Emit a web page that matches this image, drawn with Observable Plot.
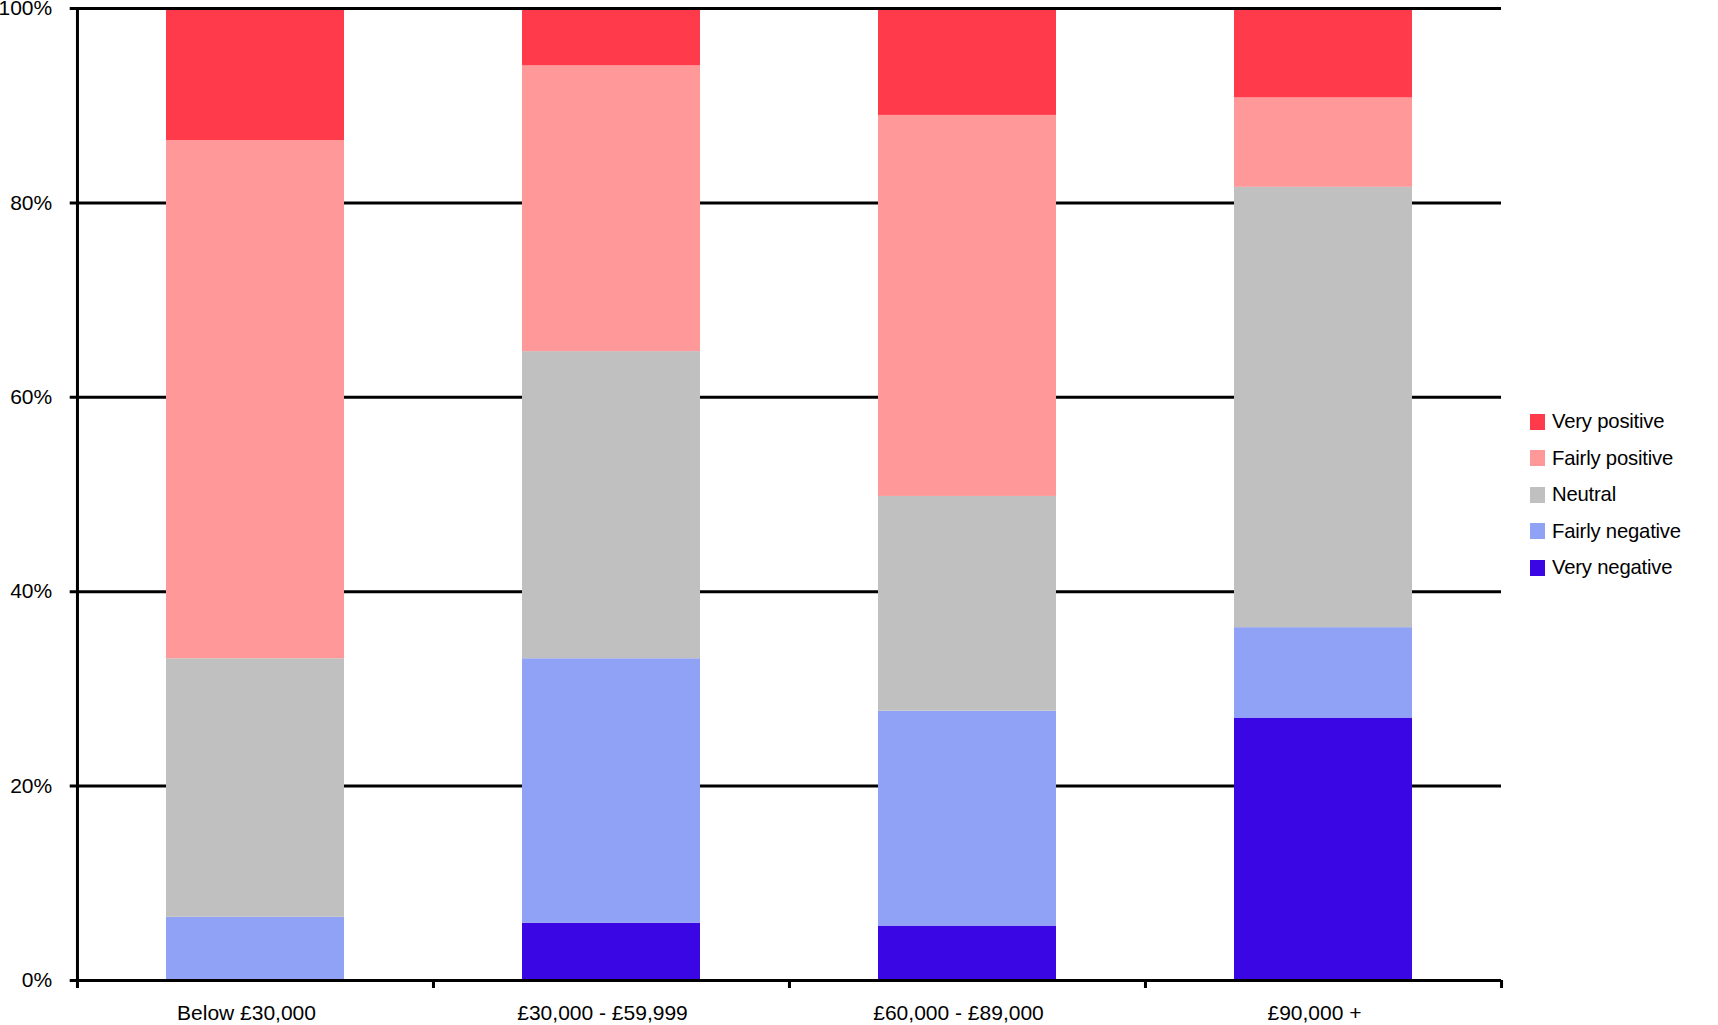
<!DOCTYPE html>
<html><head><meta charset="utf-8">
<script src="https://cdn.jsdelivr.net/npm/d3@7"></script>
<script src="https://cdn.jsdelivr.net/npm/@observablehq/plot@0.6"></script>
<style>
html,body{margin:0;padding:0;background:#fff;}
#chart{position:relative;width:1718px;height:1025px;font-family:"Liberation Sans",Arial,sans-serif;overflow:hidden;}
#chart svg{position:absolute;left:0;top:0;overflow:visible;}
#legend{position:absolute;left:1530px;top:403.5px;}
.row{display:flex;align-items:center;height:36.5px;font-size:20.3px;color:#000;white-space:nowrap;letter-spacing:-0.2px;}
.sw{width:15px;height:16px;margin-right:7px;flex:none;}
</style></head><body><div id="chart"></div>
<script>
const categories = ["Below £30,000", "£30,000 - £59,999", "£60,000 - £89,000", "£90,000 +"];
const responses = ["Very negative", "Fairly negative", "Neutral", "Fairly positive", "Very positive"];
const veryNegative   = [0.0,  5.9,  5.6, 27.0];
const fairlyNegative = [6.5, 27.2, 22.1,  9.3];
const neutral        = [26.6, 31.6, 22.1, 45.3];
const fairlyPositive = [53.3, 29.4, 39.2,  9.2];
const veryPositive   = [13.6,  5.9, 11.0,  9.2];
const colors = ["#3a06e4", "#8fa2f5", "#c0c0c0", "#ff9999", "#ff3a4b"];
const yTicks = [0, 20, 40, 60, 80, 100];

const series = [veryNegative, fairlyNegative, neutral, fairlyPositive, veryPositive];
const table = [];
categories.forEach((c, i) => {
  responses.forEach((r, j) => table.push({category: c, response: r, value: series[j][i]}));
});

const W = 1718, H = 1025, mL = 76.7, mR = 217, mT = 8, mB = 45;
const step = (W - mL - mR) / categories.length;
const lineStyle = {stroke: "#000", strokeWidth: 3};

const chart = Plot.plot({
  width: W, height: H,
  marginLeft: mL, marginRight: mR, marginTop: mT, marginBottom: mB,
  style: {fontFamily: '"Liberation Sans", Arial, sans-serif', fontSize: "21px", color: "#000", background: "transparent"},
  x: {domain: categories, paddingInner: 0.5, paddingOuter: 0.25},
  y: {domain: [0, 100]},
  color: {domain: responses, range: colors},
  marks: [
    Plot.ruleY(yTicks.filter(d => d > 0 && d < 100), {y: d => d, ...lineStyle, insetLeft: -7}),
    Plot.barY(table, {x: "category", y: "value", fill: "response", order: responses}),
    Plot.ruleY([0, 100], {y: d => d, ...lineStyle, insetLeft: -7}),
    Plot.ruleX([categories[0]], {x: d => d, dx: -step / 2, ...lineStyle, insetBottom: -8}),
    Plot.ruleX(categories.slice(1), {x: d => d, dx: -step / 2, y1: 0, y2: 0, insetBottom: -8, ...lineStyle}),
    Plot.ruleX([categories[categories.length - 1]], {x: d => d, dx: step / 2, y1: 0, y2: 0, insetBottom: -8, ...lineStyle}),
    Plot.axisY({ticks: yTicks, tickSize: 0, tickPadding: 25, tickFormat: d => d + "%", fontSize: 21, label: null}),
    Plot.axisX({tickSize: 0, tickPadding: 25, fontSize: 21, dx: -9, label: null})
  ]
});
const host = document.getElementById("chart");
host.appendChild(chart);

const legend = document.createElement("div");
legend.id = "legend";
responses.slice().reverse().forEach((r) => {
  const row = document.createElement("div");
  row.className = "row";
  const sw = document.createElement("div");
  sw.className = "sw";
  sw.style.background = colors[responses.indexOf(r)];
  const t = document.createElement("span");
  t.textContent = r;
  row.appendChild(sw); row.appendChild(t);
  legend.appendChild(row);
});
host.appendChild(legend);
</script>
</body></html>
